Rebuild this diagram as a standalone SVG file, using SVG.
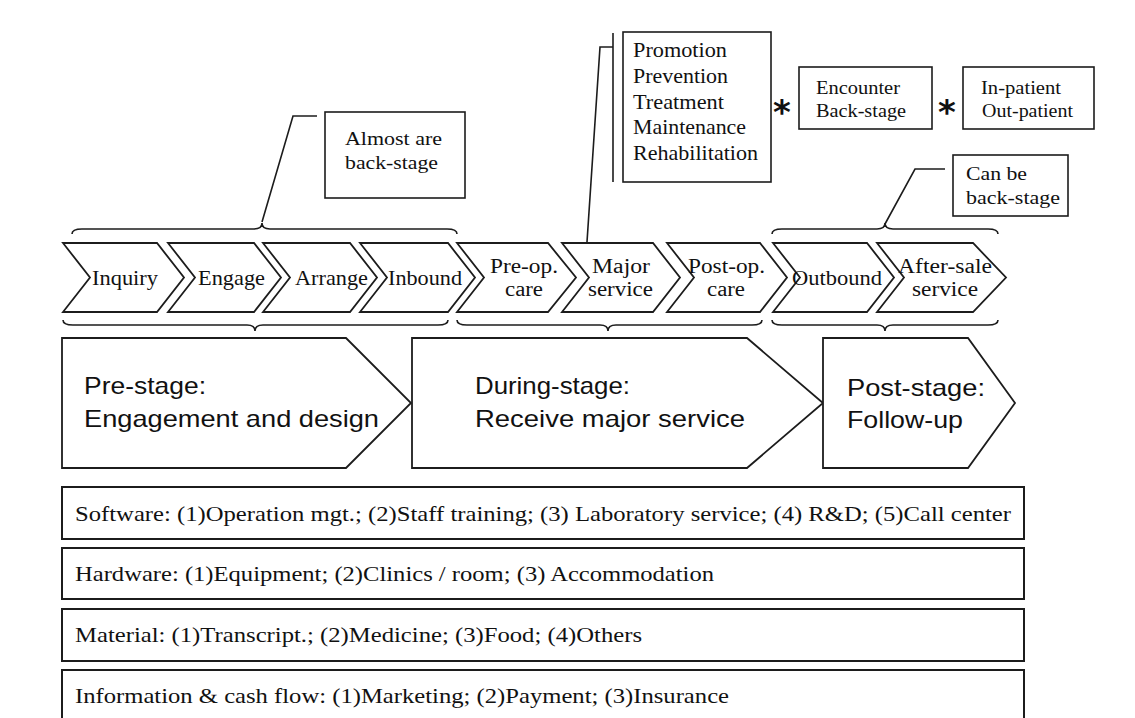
<svg xmlns="http://www.w3.org/2000/svg" width="1135" height="718" viewBox="0 0 1135 718">
<style>
.bg{fill:#ffffff}
.sh{fill:#ffffff;stroke:#1c1c1c;stroke-width:1.8;stroke-linejoin:miter}
.box{fill:#ffffff;stroke:#1c1c1c;stroke-width:1.6}
.rowbox{fill:#ffffff;stroke:#1c1c1c;stroke-width:2}
.ln{fill:none;stroke:#1c1c1c;stroke-width:1.6}
.br{fill:none;stroke:#1c1c1c;stroke-width:1.6}
.t{font-family:"Liberation Serif","Times New Roman",serif;fill:#111111}
.s{font-family:"Liberation Sans",Arial,sans-serif;fill:#111111}
.c{font-size:22px}
.c2{font-size:20px}
.n{font-size:19px}
.r{font-size:21px}
.rw{font-size:22px}
.big{font-size:24px}
.ast{font-family:"DejaVu Sans",sans-serif;font-size:34px;font-weight:bold;fill:#111111}
</style>
<rect class="bg" x="0" y="0" width="1135" height="718"/>

<g id="connectors">
  <path class="br" d="M72,234 Q72,229 82,229 L254,229 Q262,229 262,223 Q262,229 270,229 L447,229 Q457,229 457,234"/>
  <path class="br" d="M772,234 Q772,229 782,229 L877,229 Q885,229 885,223 Q885,229 893,229 L988,229 Q998,229 998,234"/>
  <path class="br" d="M63,320 Q63,325 73,325 L247,325 Q255,325 255,331 Q255,325 263,325 L438,325 Q448,325 448,320"/>
  <path class="br" d="M457,320 Q457,325 467,325 L600,325 Q608,325 608,331 Q608,325 616,325 L752,325 Q762,325 762,320"/>
  <path class="br" d="M772,320 Q772,325 782,325 L877,325 Q885,325 885,331 Q885,325 893,325 L988,325 Q998,325 998,320"/>
  <polyline class="ln" points="262,222 293,116 317,116"/>
  <polyline class="ln" points="587,242 600,47 613,47"/>
  <line class="ln" x1="613" y1="33" x2="613" y2="182"/>
  <polyline class="ln" points="885,224 915,169 945,169"/>
</g>

<g id="note-almost">
  <rect class="box" x="325" y="112" width="140" height="86"/>
  <text class="t n" x="345" y="145" textLength="97" lengthAdjust="spacingAndGlyphs">Almost are</text>
  <text class="t n" x="345" y="169" textLength="93" lengthAdjust="spacingAndGlyphs">back-stage</text>
</g>

<g id="note-services">
  <rect class="box" x="623" y="32" width="148" height="150"/>
  <text class="t r" x="633" y="57" textLength="94" lengthAdjust="spacingAndGlyphs">Promotion</text>
  <text class="t r" x="633" y="83" textLength="95" lengthAdjust="spacingAndGlyphs">Prevention</text>
  <text class="t r" x="633" y="109" textLength="91" lengthAdjust="spacingAndGlyphs">Treatment</text>
  <text class="t r" x="633" y="134" textLength="113" lengthAdjust="spacingAndGlyphs">Maintenance</text>
  <text class="t r" x="633" y="160" textLength="125" lengthAdjust="spacingAndGlyphs">Rehabilitation</text>
</g>

<g id="asterisk-1"><text class="ast" x="773" y="124">*</text></g>

<g id="note-encounter">
  <rect class="box" x="799" y="67" width="133" height="62"/>
  <text class="t n" x="816" y="94" textLength="84" lengthAdjust="spacingAndGlyphs">Encounter</text>
  <text class="t n" x="816" y="117" textLength="90" lengthAdjust="spacingAndGlyphs">Back-stage</text>
</g>

<g id="asterisk-2"><text class="ast" x="938" y="124">*</text></g>

<g id="note-patient">
  <rect class="box" x="963" y="67" width="131" height="62"/>
  <text class="t n" x="981" y="94" textLength="80" lengthAdjust="spacingAndGlyphs">In-patient</text>
  <text class="t n" x="982" y="117" textLength="91" lengthAdjust="spacingAndGlyphs">Out-patient</text>
</g>

<g id="note-canbe">
  <rect class="box" x="953" y="155" width="115" height="61"/>
  <text class="t n" x="966" y="180" textLength="61" lengthAdjust="spacingAndGlyphs">Can be</text>
  <text class="t n" x="966" y="204" textLength="94" lengthAdjust="spacingAndGlyphs">back-stage</text>
</g>

<g id="step-inquiry">
  <polygon class="sh" points="63,243 157,243 184,277.5 157,312 63,312 90,277.5"/>
  <text class="t c" x="92" y="285" textLength="66" lengthAdjust="spacingAndGlyphs">Inquiry</text>
</g>
<g id="step-engage">
  <polygon class="sh" points="168,243 254,243 281,277.5 254,312 168,312 195,277.5"/>
  <text class="t c" x="198" y="285" textLength="67" lengthAdjust="spacingAndGlyphs">Engage</text>
</g>
<g id="step-arrange">
  <polygon class="sh" points="263,243 350,243 377,277.5 350,312 263,312 290,277.5"/>
  <text class="t c" x="295" y="285" textLength="73" lengthAdjust="spacingAndGlyphs">Arrange</text>
</g>
<g id="step-inbound">
  <polygon class="sh" points="360,243 448,243 475,277.5 448,312 360,312 387,277.5"/>
  <text class="t c" x="388" y="285" textLength="74" lengthAdjust="spacingAndGlyphs">Inbound</text>
</g>
<g id="step-preop">
  <polygon class="sh" points="457,243 548,243 576,277.5 548,312 457,312 484,277.5"/>
  <text class="t c2" x="490" y="273" textLength="68" lengthAdjust="spacingAndGlyphs">Pre-op.</text>
  <text class="t c2" x="505" y="296" textLength="38" lengthAdjust="spacingAndGlyphs">care</text>
</g>
<g id="step-major">
  <polygon class="sh" points="562,243 653,243 680,277.5 653,312 562,312 589,277.5"/>
  <text class="t c2" x="592" y="273" textLength="58" lengthAdjust="spacingAndGlyphs">Major</text>
  <text class="t c2" x="588" y="296" textLength="65" lengthAdjust="spacingAndGlyphs">service</text>
</g>
<g id="step-postop">
  <polygon class="sh" points="667,243 760,243 787,277.5 760,312 667,312 694,277.5"/>
  <text class="t c2" x="688" y="273" textLength="77" lengthAdjust="spacingAndGlyphs">Post-op.</text>
  <text class="t c2" x="707" y="296" textLength="38" lengthAdjust="spacingAndGlyphs">care</text>
</g>
<g id="step-outbound">
  <polygon class="sh" points="773,243 867,243 894,277.5 867,312 773,312 800,277.5"/>
  <text class="t c" x="792" y="285" textLength="90" lengthAdjust="spacingAndGlyphs">Outbound</text>
</g>
<g id="step-aftersale">
  <polygon class="sh" points="877,243 973,243 1006,277.5 973,312 877,312 904,277.5"/>
  <text class="t c2" x="898" y="273" textLength="94" lengthAdjust="spacingAndGlyphs">After-sale</text>
  <text class="t c2" x="912" y="296" textLength="66" lengthAdjust="spacingAndGlyphs">service</text>
</g>

<g id="stage-pre">
  <polygon class="sh" points="62,338 346,338 411,403 346,468 62,468"/>
  <text class="s big" x="84" y="394" textLength="122" lengthAdjust="spacingAndGlyphs">Pre-stage:</text>
  <text class="s big" x="84" y="427" textLength="295" lengthAdjust="spacingAndGlyphs">Engagement and design</text>
</g>
<g id="stage-during">
  <polygon class="sh" points="412,338 747,338 823,403 747,468 412,468"/>
  <text class="s big" x="475" y="394" textLength="155" lengthAdjust="spacingAndGlyphs">During-stage:</text>
  <text class="s big" x="475" y="427" textLength="270" lengthAdjust="spacingAndGlyphs">Receive major service</text>
</g>
<g id="stage-post">
  <polygon class="sh" points="823,338 968,338 1015,403 968,468 823,468"/>
  <text class="s big" x="847" y="396" textLength="138" lengthAdjust="spacingAndGlyphs">Post-stage:</text>
  <text class="s big" x="847" y="428" textLength="116" lengthAdjust="spacingAndGlyphs">Follow-up</text>
</g>

<g id="row-software">
  <rect class="rowbox" x="62" y="487" width="962" height="52"/>
  <text class="t rw" x="75" y="521" textLength="936" lengthAdjust="spacingAndGlyphs">Software: (1)Operation mgt.; (2)Staff training; (3) Laboratory service; (4) R&amp;D; (5)Call center</text>
</g>
<g id="row-hardware">
  <rect class="rowbox" x="62" y="548" width="962" height="51"/>
  <text class="t rw" x="75" y="581" textLength="639" lengthAdjust="spacingAndGlyphs">Hardware: (1)Equipment; (2)Clinics / room; (3) Accommodation</text>
</g>
<g id="row-material">
  <rect class="rowbox" x="62" y="609" width="962" height="52"/>
  <text class="t rw" x="75" y="642" textLength="567" lengthAdjust="spacingAndGlyphs">Material: (1)Transcript.; (2)Medicine; (3)Food; (4)Others</text>
</g>
<g id="row-info">
  <rect class="rowbox" x="62" y="670" width="962" height="60"/>
  <text class="t rw" x="75" y="703" textLength="654" lengthAdjust="spacingAndGlyphs">Information &amp; cash flow: (1)Marketing; (2)Payment; (3)Insurance</text>
</g>
</svg>
